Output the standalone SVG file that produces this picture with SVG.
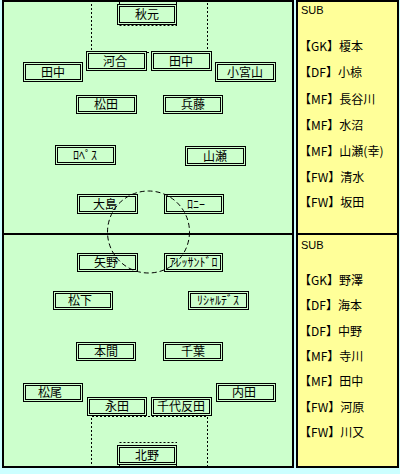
<svg xmlns="http://www.w3.org/2000/svg" width="400" height="474" viewBox="0 0 400 474">
<style>
.bo{fill:#ccffcc;stroke:#000;stroke-width:1}
.bi{fill:none;stroke:#000;stroke-width:1}
.t{font-family:"Noto Sans CJK JP","Liberation Sans",sans-serif;font-size:12px;fill:#000;text-anchor:middle}
.s{font-family:"Noto Sans CJK JP","Liberation Sans",sans-serif;font-size:12px;fill:#000}
.sub{font-family:"Liberation Sans",sans-serif;font-size:11px;fill:#000}
.dot{fill:none;stroke:#000;stroke-width:1;stroke-dasharray:2 2}
.dash{fill:none;stroke:#000;stroke-width:1;stroke-dasharray:5 3}
.sol{fill:none;stroke:#000;stroke-width:1}
</style>
<rect x="0" y="0" width="400" height="474" fill="#ccffff"/>
<g id="field">
<rect x="3" y="1" width="290" height="466" fill="#ccffcc" stroke="#000" stroke-width="2"/>
<line x1="3" y1="234" x2="293" y2="234" stroke="#000" stroke-width="2"/>
</g>
<g id="subs-panel">
<rect x="297" y="1" width="101" height="466" fill="#ffff99" stroke="#000" stroke-width="2"/>
<line x1="297" y1="234" x2="398" y2="234" stroke="#000" stroke-width="2"/>
<text class="sub" x="301" y="14">SUB</text>
<text class="s" x="299" y="51">【GK】榎本</text>
<text class="s" x="299" y="77">【DF】小椋</text>
<text class="s" x="299" y="104">【MF】長谷川</text>
<text class="s" x="299" y="130">【MF】水沼</text>
<text class="s" x="299" y="156">【MF】山瀬(幸)</text>
<text class="s" x="299" y="182">【FW】清水</text>
<text class="s" x="299" y="207">【FW】坂田</text>
<text class="sub" x="301" y="249">SUB</text>
<text class="s" x="299" y="285">【GK】野澤</text>
<text class="s" x="299" y="310">【DF】海本</text>
<text class="s" x="299" y="336">【DF】中野</text>
<text class="s" x="299" y="361">【MF】寺川</text>
<text class="s" x="299" y="386">【MF】田中</text>
<text class="s" x="299" y="412">【FW】河原</text>
<text class="s" x="299" y="437">【FW】川又</text>
</g>
<g id="markings">
<path class="dot" d="M91.5,0 V52.5 H207.5 V0"/>
<path class="sol" d="M119.5,0 V4 M176.5,0 V25"/>
<path class="dot" d="M119.5,25.5 H177"/>
<path class="dot" d="M91.5,468 V416.5 H207.5 V468"/>
<path class="dot" d="M119.5,442.5 H177"/>
<path class="sol" d="M119.5,465 V468 M176.5,465 V468"/>
</g>
<g id="n-akimoto"><rect class="bo" x="117.5" y="4.5" width="59" height="20"/><rect class="bi" x="119.5" y="6.5" width="55" height="16"/><text class="t" x="147" y="19">秋元</text></g>
<g id="n-kawai"><rect class="bo" x="86.5" y="51.5" width="60" height="19"/><rect class="bi" x="88.5" y="53.5" width="56" height="15"/><text class="t" x="115" y="66">河合</text></g>
<g id="n-tanaka-c"><rect class="bo" x="151.5" y="51.5" width="60" height="19"/><rect class="bi" x="153.5" y="53.5" width="56" height="15"/><text class="t" x="181" y="66">田中</text></g>
<g id="n-tanaka-l"><rect class="bo" x="23.5" y="62.5" width="59" height="19"/><rect class="bi" x="25.5" y="64.5" width="55" height="15"/><text class="t" x="53" y="77">田中</text></g>
<g id="n-komiyama"><rect class="bo" x="215.5" y="62.5" width="60" height="19"/><rect class="bi" x="217.5" y="64.5" width="56" height="15"/><text class="t" x="245" y="77">小宮山</text></g>
<g id="n-matsuda"><rect class="bo" x="76.5" y="95.5" width="60" height="18"/><rect class="bi" x="78.5" y="97.5" width="56" height="14"/><text class="t" x="106" y="109">松田</text></g>
<g id="n-hyodo"><rect class="bo" x="163.5" y="95.5" width="59" height="18"/><rect class="bi" x="165.5" y="97.5" width="55" height="14"/><text class="t" x="193" y="109">兵藤</text></g>
<g id="n-lopes"><rect class="bo" x="55.5" y="145.5" width="60" height="19"/><rect class="bi" x="57.5" y="147.5" width="56" height="15"/><text class="t" x="85" y="160">ﾛﾍﾟｽ</text></g>
<g id="n-yamase"><rect class="bo" x="185.5" y="146.5" width="60" height="19"/><rect class="bi" x="187.5" y="148.5" width="56" height="15"/><text class="t" x="215" y="161">山瀬</text></g>
<g id="n-oshima"><rect class="bo" x="77.5" y="194.5" width="60" height="19"/><rect class="bi" x="79.5" y="196.5" width="56" height="15"/><text class="t" x="105" y="209">大島</text></g>
<g id="n-ronnie"><rect class="bo" x="164.5" y="194.5" width="59" height="19"/><rect class="bi" x="166.5" y="196.5" width="55" height="15"/><text class="t" x="196" y="209">ﾛﾆｰ</text></g>
<g id="n-yano"><rect class="bo" x="77.5" y="253.5" width="60" height="18"/><rect class="bi" x="79.5" y="255.5" width="56" height="14"/><text class="t" x="106" y="267">矢野</text></g>
<g id="n-alessandro"><rect class="bo" x="164.5" y="253.5" width="58" height="18"/><rect class="bi" x="166.5" y="255.5" width="54" height="14"/><text class="t" x="193.5" y="267">ｱﾚｯｻﾝﾄﾞﾛ</text></g>
<g id="n-matsushita"><rect class="bo" x="53.5" y="291.5" width="59" height="18"/><rect class="bi" x="55.5" y="293.5" width="55" height="14"/><text class="t" x="80" y="305">松下</text></g>
<g id="n-richardes"><rect class="bo" x="188.5" y="291.5" width="60" height="18"/><rect class="bi" x="190.5" y="293.5" width="56" height="14"/><text class="t" x="218" y="305">ﾘｼｬﾙﾃﾞｽ</text></g>
<g id="n-honma"><rect class="bo" x="76.5" y="342.5" width="59" height="18"/><rect class="bi" x="78.5" y="344.5" width="55" height="14"/><text class="t" x="106" y="356">本間</text></g>
<g id="n-chiba"><rect class="bo" x="163.5" y="342.5" width="59" height="18"/><rect class="bi" x="165.5" y="344.5" width="55" height="14"/><text class="t" x="193" y="356">千葉</text></g>
<g id="n-matsuo"><rect class="bo" x="23.5" y="383.5" width="59" height="18"/><rect class="bi" x="25.5" y="385.5" width="55" height="14"/><text class="t" x="50" y="397">松尾</text></g>
<g id="n-uchida"><rect class="bo" x="216.5" y="383.5" width="59" height="18"/><rect class="bi" x="218.5" y="385.5" width="55" height="14"/><text class="t" x="244" y="397">内田</text></g>
<g id="n-nagata"><rect class="bo" x="87.5" y="397.5" width="59" height="18"/><rect class="bi" x="89.5" y="399.5" width="55" height="14"/><text class="t" x="117" y="411">永田</text></g>
<g id="n-chiyotanda"><rect class="bo" x="151.5" y="397.5" width="60" height="18"/><rect class="bi" x="153.5" y="399.5" width="56" height="14"/><text class="t" x="181" y="411">千代反田</text></g>
<g id="n-kitano"><rect class="bo" x="117.5" y="445.5" width="59" height="19"/><rect class="bi" x="119.5" y="447.5" width="55" height="15"/><text class="t" x="147" y="460">北野</text></g>
<g id="connectors">
<circle class="dash" cx="148.5" cy="232" r="41"/>
</g>
</svg>
